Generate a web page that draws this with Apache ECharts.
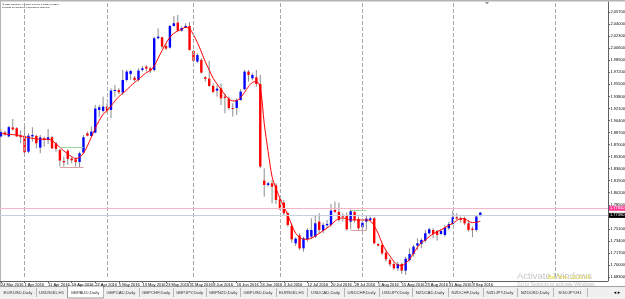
<!DOCTYPE html>
<html>
<head>
<meta charset="utf-8">
<style>
html,body{margin:0;padding:0;background:#fff;}
#chart{width:625px;height:299px;}
</style>
<script src="https://cdn.jsdelivr.net/npm/echarts@6/dist/echarts.min.js"></script>
</head>
<body>
<div id="chart"></div>
<script>
// GBPAUD, Daily - 24 Mar 2016 .. 12 Sep 2016
var tradingDays = [
  ['Mar', [24,25,28,29,30,31]],
  ['Apr', [1,4,5,6,7,8,11,12,13,14,15,18,19,20,21,22,25,26,27,28,29]],
  ['May', [2,3,4,5,6,9,10,11,12,13,16,17,18,19,20,23,24,25,26,27,30,31]],
  ['Jun', [1,2,3,6,7,8,9,10,13,14,15,16,17,20,21,22,23,24,27,28,29,30]],
  ['Jul', [1,4,5,6,7,8,11,12,13,14,15,18,19,20,21,22,25,26,27,28,29]],
  ['Aug', [1,2,3,4,5,8,9,10,11,12,15,16,17,18,19,22,23,24,25,26,29,30,31]],
  ['Sep', [1,2,5,6,7,8,9,12]]
];

var open = [1.8815,1.8871,1.8815,1.8941,1.8931,1.8822,1.8822,1.8600,1.8815,1.8822,
  1.8657,1.8789,1.8765,1.8803,1.8718,1.8624,1.8468,1.8614,1.8502,1.8492,
  1.8454,1.8586,1.8859,1.8822,1.8869,1.9189,1.9175,1.9236,1.9189,1.9457,
  1.9471,1.9433,1.9612,1.9697,1.9645,1.9612,1.9754,1.9801,1.9777,1.9754,
  2.0201,2.0215,2.0092,2.0069,2.0375,2.0422,2.0309,2.0347,2.0375,2.0022,
  1.9871,1.9895,1.9650,1.9631,1.9528,1.9462,1.9495,1.9377,1.9349,1.9217,
  1.9217,1.9330,1.9481,1.9730,1.9636,1.9650,1.9556,1.8191,1.8130,1.8153,
  1.8125,1.7927,1.7880,1.7730,1.7551,1.7306,1.7419,1.7235,1.7362,1.7400,
  1.7400,1.7612,1.7485,1.7560,1.7565,1.7777,1.7749,1.7701,1.7706,1.7612,
  1.7749,1.7650,1.7532,1.7612,1.7636,1.7659,1.7297,1.7282,1.7174,1.7071,
  1.7014,1.6953,1.7014,1.6920,1.7071,1.7155,1.7273,1.7297,1.7344,1.7447,
  1.7494,1.7480,1.7438,1.7424,1.7518,1.7579,1.7673,1.7659,1.7659,1.7588,
  1.7513,1.7494,1.7706];
var high = [1.8909,1.8895,1.8965,1.9062,1.8946,1.8899,1.8953,1.8859,1.8944,1.8840,
  1.8836,1.8812,1.8920,1.8822,1.8742,1.8638,1.8530,1.8633,1.8530,1.8520,
  1.8600,1.8836,1.8883,1.8953,1.9259,1.9259,1.9377,1.9283,1.9495,1.9542,
  1.9495,1.9754,1.9754,1.9754,1.9669,1.9777,1.9810,1.9820,1.9801,2.0224,
  2.0342,2.0224,2.0130,2.0389,2.0516,2.0530,2.0365,2.0413,2.0431,2.0036,
  1.9989,1.9918,1.9669,1.9881,1.9565,1.9542,1.9565,1.9424,1.9377,1.9283,
  1.9353,1.9481,1.9754,1.9754,1.9707,1.9754,1.9683,1.8365,1.8177,1.8200,
  1.8153,1.7965,1.7918,1.7753,1.7588,1.7391,1.7447,1.7400,1.7518,1.7659,
  1.7706,1.7730,1.7598,1.7635,1.7861,1.7894,1.7880,1.7730,1.7739,1.7786,
  1.7767,1.7683,1.7659,1.7692,1.7683,1.7673,1.7306,1.7306,1.7212,1.7094,
  1.7047,1.7047,1.7033,1.7118,1.7235,1.7282,1.7377,1.7377,1.7494,1.7527,
  1.7518,1.7494,1.7513,1.7565,1.7612,1.7767,1.7730,1.7683,1.7683,1.7636,
  1.7542,1.7706,1.7749];
var low = [1.8801,1.8824,1.8801,1.8899,1.8805,1.8718,1.8577,1.8577,1.8742,1.8647,
  1.8577,1.8671,1.8709,1.8638,1.8600,1.8389,1.8389,1.8412,1.8436,1.8389,
  1.8379,1.8577,1.8815,1.8815,1.8859,1.9095,1.9151,1.9142,1.9071,1.9377,
  1.9410,1.9401,1.9589,1.9612,1.9589,1.9589,1.9730,1.9730,1.9707,1.9730,
  2.0187,2.0059,2.0036,2.0055,2.0365,2.0295,2.0295,2.0342,2.0027,1.9867,
  1.9857,1.9702,1.9589,1.9518,1.9424,1.9377,1.9259,1.9142,1.9189,1.9095,
  1.9118,1.9320,1.9471,1.9589,1.9612,1.9518,1.8365,1.7965,1.8106,1.7871,
  1.7861,1.7777,1.7706,1.7542,1.7315,1.7268,1.7212,1.7188,1.7330,1.7362,
  1.7377,1.7447,1.7447,1.7518,1.7542,1.7730,1.7612,1.7612,1.7485,1.7504,
  1.7598,1.7494,1.7485,1.7494,1.7612,1.7292,1.7259,1.7141,1.7047,1.6977,
  1.6929,1.6920,1.6873,1.6859,1.7047,1.7118,1.7212,1.7235,1.7315,1.7424,
  1.7377,1.7344,1.7424,1.7400,1.7494,1.7565,1.7636,1.7598,1.7565,1.7471,
  1.7391,1.7471,1.7683];
var close = [1.8876,1.8843,1.8946,1.8913,1.8815,1.8803,1.8591,1.8826,1.8836,1.8718,
  1.8801,1.8765,1.8803,1.8647,1.8638,1.8473,1.8450,1.8497,1.8478,1.8454,
  1.8577,1.8803,1.8826,1.8883,1.9208,1.9226,1.9236,1.9179,1.9462,1.9471,
  1.9438,1.9612,1.9730,1.9739,1.9612,1.9744,1.9777,1.9772,1.9744,2.0201,
  2.0224,2.0083,2.0055,2.0375,2.0413,2.0309,2.0347,2.0375,2.0036,1.9881,
  1.9965,1.9716,1.9627,1.9528,1.9443,1.9490,1.9353,1.9358,1.9217,1.9208,
  1.9330,1.9448,1.9730,1.9683,1.9683,1.9556,1.8389,1.8130,1.8153,1.8106,
  1.7918,1.7786,1.7730,1.7565,1.7362,1.7372,1.7235,1.7377,1.7494,1.7494,
  1.7588,1.7494,1.7565,1.7579,1.7767,1.7749,1.7636,1.7683,1.7504,1.7758,
  1.7636,1.7518,1.7598,1.7654,1.7659,1.7306,1.7273,1.7165,1.7080,1.7009,
  1.6953,1.7014,1.6920,1.7089,1.7155,1.7259,1.7306,1.7353,1.7447,1.7504,
  1.7438,1.7424,1.7480,1.7527,1.7579,1.7673,1.7654,1.7636,1.7588,1.7494,
  1.7494,1.7683,1.7739];
// red moving average as drawn on the chart
var ma = [1.8859,1.8850,1.8845,1.8840,1.8836,1.8826,1.8812,1.8798,1.8789,1.8779,
  1.8775,1.8775,1.8775,1.8756,1.8709,1.8662,1.8610,1.8567,1.8530,1.8502,
  1.8520,1.8577,1.8680,1.8803,1.8930,1.9038,1.9128,1.9179,1.9245,1.9316,
  1.9377,1.9424,1.9471,1.9528,1.9575,1.9622,1.9669,1.9716,1.9744,1.9810,
  1.9918,2.0027,2.0130,2.0215,2.0271,2.0304,2.0328,2.0356,2.0337,2.0248,
  2.0140,2.0008,1.9871,1.9754,1.9636,1.9556,1.9481,1.9401,1.9344,1.9316,
  1.9320,1.9363,1.9438,1.9518,1.9579,1.9589,1.9509,1.9000,1.8600,1.8247,
  1.8083,1.7941,1.7824,1.7706,1.7565,1.7447,1.7391,1.7362,1.7362,1.7381,
  1.7409,1.7447,1.7485,1.7522,1.7565,1.7617,1.7654,1.7664,1.7654,1.7635,
  1.7635,1.7635,1.7635,1.7635,1.7626,1.7551,1.7447,1.7306,1.7202,1.7127,
  1.7047,1.7000,1.6991,1.7024,1.7080,1.7165,1.7249,1.7315,1.7353,1.7400,
  1.7438,1.7471,1.7494,1.7527,1.7560,1.7588,1.7626,1.7654,1.7654,1.7617,
  1.7598,1.7603,1.7617];

var priceLevel = 1.7785;   // pink horizontal line
var bidPrice = 1.7739;     // current bid
// short range markers: [fromIdx, toIdx, upper, lower]
var ranges = [[15, 21, 1.8666, 1.8381], [89, 93, 1.7774, 1.7484]];
var monthStarts = [6, 27, 49, 71, 92, 115, 141];
var futureBars = 32;

var tabNames = ['EURUSD,Daily','USDSGD,H1','GBPAUD,Daily','GBPCAD,Daily','GBPCHF,Daily','GBPJPY,Daily',
  'GBPNZD,Daily','GBPUSD,Daily','EURSGD,H1','USDCAD,Daily','USDCHF,Daily','USDJPY,Daily',
  'NZDCAD,Daily','NZDCHF,Daily','NZDJPY,Daily','NZDUSD,Daily','SGDJPY,H1'];
var tabSep = [36,67,103,139,173,206,240,276,307,344,379,412,448,483,517,553,587];
var activeTab = 2;

var cats = [];
tradingDays.forEach(function (m) {
  m[1].forEach(function (d) { cats.push(d + ' ' + m[0] + ' 2016'); });
});
var nBars = cats.length;
for (var f = 0; f < futureBars; f++) cats.push('');

var candles = [];
for (var i = 0; i < nBars; i++) candles.push([i, open[i], close[i], low[i], high[i]]);

function showLabel(idx) { return idx < nBars && idx % 6 === 0; }

function renderCandle(params, api) {
  var i = api.value(0);
  var o = api.coord([i, api.value(1)]);
  var c = api.coord([i, api.value(2)]);
  var l = api.coord([i, api.value(3)]);
  var h = api.coord([i, api.value(4)]);
  var up = api.value(2) >= api.value(1);
  var w = 2.4;
  var top = Math.min(o[1], c[1]), bot = Math.max(o[1], c[1]);
  return {
    type: 'group',
    children: [
      { type: 'line', shape: { x1: h[0], y1: h[1], x2: l[0], y2: l[1] },
        style: { stroke: '#8c8c8c', lineWidth: 1 } },
      { type: 'rect', shape: { x: o[0] - w / 2, y: top, width: w, height: Math.max(bot - top, 0.9) },
        style: { fill: up ? '#0000ff' : '#ff0000' } }
    ]
  };
}

var markData = monthStarts.map(function (ix) {
  return { xAxis: ix, lineStyle: { type: 'dashed', color: '#a8a8a8', width: 1 }, label: { show: false } };
});
markData.push({ yAxis: priceLevel, lineStyle: { type: 'solid', color: '#f7b4c6', width: 1 },
  label: { show: true, position: 'end', distance: 1, fontSize: 4, color: '#fff', backgroundColor: '#ff3c96',
    padding: [0.5, 1], formatter: priceLevel.toFixed(5) } });
markData.push({ yAxis: bidPrice, lineStyle: { type: 'solid', color: '#c4cedc', width: 1 },
  label: { show: true, position: 'end', distance: 1, fontSize: 4, color: '#fff', backgroundColor: '#000',
    padding: [0.5, 1], formatter: bidPrice.toFixed(5) } });
ranges.forEach(function (r) {
  markData.push([{ coord: [r[0], r[2]], lineStyle: { type: 'solid', color: '#9fd79f', width: 1 }, label: { show: false } },
                 { coord: [r[1], r[2]] }]);
  markData.push([{ coord: [r[0], r[3]], lineStyle: { type: 'solid', color: '#d9a3a3', width: 1 }, label: { show: false } },
                 { coord: [r[1], r[3]] }]);
});

// window chrome: header text, tab bar, watermark
var g = [
  { type: 'rect', left: 0, top: 0, shape: { width: 625, height: 1.6 }, style: { fill: '#b4b4b4' }, silent: true },
  { type: 'rect', left: 0, top: 0, shape: { width: 1, height: 286 }, style: { fill: '#b4b4b4' }, silent: true },
  { type: 'line', shape: { x1: 608.5, y1: 277, x2: 608.5, y2: 281 }, style: { stroke: '#606060', lineWidth: 1 } },
  { type: 'polygon', shape: { points: [[485, 2], [489, 2], [487, 4.5]] }, style: { fill: '#909090' } },
  { type: 'text', left: 2, top: 3, style: { text: '\u25BC GBPAUD,Daily  1.77060 1.77490 1.76830 1.77390',
      font: '2.4px "Liberation Sans"', fill: '#000' } },
  { type: 'text', left: 2, top: 6.5, style: { text: '18 hours 17 minutes 14 seconds to close bar',
      font: '2.4px "Liberation Sans"', fill: '#000' } },
  { type: 'text', left: 517, top: 271, style: { text: 'Activate Windows', font: '9.5px "Liberation Sans"',
      fill: 'rgba(150,150,150,0.55)' } },
  { type: 'text', left: 548, top: 275.5, style: { text: 'Bar Time  10:37:14', font: '5px "Liberation Sans"',
      fill: '#e3d83a' } },
  { type: 'text', left: 517, top: 282, style: { text: 'Go to Settings to activate Windows.',
      font: '5px "Liberation Sans"', fill: 'rgba(150,150,150,0.6)' } },
  { type: 'rect', left: 0, top: 286, shape: { width: 625, height: 13 }, style: { fill: '#f0f0f0' }, silent: true },
  { type: 'line', shape: { x1: 0, y1: 286.5, x2: 625, y2: 286.5 }, style: { stroke: '#a0a0a0', lineWidth: 1 } }
];
var prev = 0;
tabNames.forEach(function (name, k) {
  var right = tabSep[k];
  if (k === activeTab) {
    g.push({ type: 'rect', shape: { x: prev + 0.5, y: 286, width: right - prev, height: 12 },
      style: { fill: '#fff', stroke: '#9a9a9a', lineWidth: 1 } });
  }
  g.push({ type: 'line', shape: { x1: right + 0.5, y1: 288, x2: right + 0.5, y2: 297 },
    style: { stroke: '#b8b8b8', lineWidth: 1 } });
  g.push({ type: 'text', x: (prev + right) / 2, y: 292.5,
    style: { text: name, font: '4.3px "Liberation Sans"', fill: '#333', align: 'center', verticalAlign: 'middle' } });
  prev = right;
});
g.push({ type: 'text', x: 617, y: 292.5, style: { text: '\u25C2 \u25B8', font: '5px "DejaVu Sans"', fill: '#000',
  align: 'center', verticalAlign: 'middle' } });

var chart = echarts.init(document.getElementById('chart'), null, { renderer: 'canvas' });
chart.setOption({
  backgroundColor: '#fff',
  animation: false,
  grid: { left: -1, right: 17, top: 2, bottom: 22, containLabel: false, outerBoundsMode: 'none' },
  xAxis: {
    type: 'category',
    data: cats,
    boundaryGap: true,
    offset: 4,
    axisLine: { show: true, lineStyle: { color: '#606060', width: 1 } },
    axisTick: { show: true, interval: showLabel, alignWithLabel: true, length: 2, lineStyle: { color: '#606060' } },
    axisLabel: { show: true, interval: showLabel, fontSize: 4, fontFamily: 'Liberation Sans', color: '#000',
      align: 'left', margin: 1.5, hideOverlap: false },
    splitLine: { show: false }
  },
  yAxis: {
    type: 'value',
    position: 'right',
    scale: true,
    min: 1.683,
    max: 2.0713,
    interval: 0.017,
    axisLine: { show: true, lineStyle: { color: '#606060', width: 1 } },
    axisTick: { show: true, length: 2, lineStyle: { color: '#606060' } },
    axisLabel: { fontSize: 4, fontFamily: 'Liberation Sans', color: '#000', margin: 2.5, showMaxLabel: false,
      formatter: function (v) { return v.toFixed(5); } },
    splitLine: { show: false }
  },
  series: [
    {
      type: 'custom',
      name: 'GBPAUD',
      renderItem: renderCandle,
      data: candles,
      encode: { x: 0, y: [1, 2, 3, 4] },
      clip: true,
      z: 3
    },
    {
      type: 'line',
      name: 'MA',
      data: ma,
      symbol: 'none',
      smooth: 0.3,
      lineStyle: { color: '#ff0000', width: 1 },
      z: 4,
      markLine: { symbol: 'none', silent: true, animation: false, data: markData }
    }
  ],
  graphic: g
});
</script>
</body>
</html>
